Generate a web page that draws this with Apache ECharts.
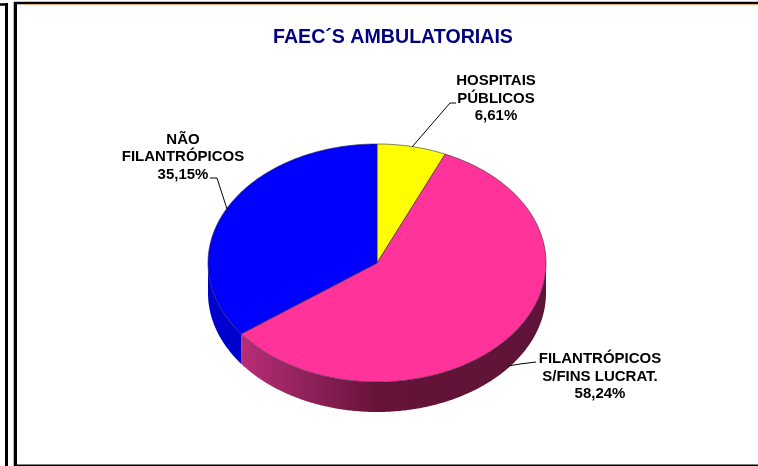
<!DOCTYPE html>
<html><head><meta charset="utf-8">
<style>html,body{margin:0;padding:0;background:#fff}#c{width:758px;height:466px}</style>
<script src="https://cdn.jsdelivr.net/npm/echarts@6/dist/echarts.min.js"></script>
</head><body><div id="c"></div>
<script>
const titleText = 'FAEC´S AMBULATORIAIS';
const categories = ['HOSPITAIS\nPÚBLICOS', 'FILANTRÓPICOS\nS/FINS LUCRAT.', 'NÃO\nFILANTRÓPICOS'];
const values = [6.61, 58.24, 35.15];
const valueLabels = ['6,61%', '58,24%', '35,15%'];
const colors = ['#ffff00', '#ff3399', '#0000ff'];

const CX = 377, CY = 263, RX = 169, RY = 119, DEPTH = 30;
const total = values.reduce((a, b) => a + b, 0);
const pt = (t, dy) => [CX + RX * Math.sin(t), CY - RY * Math.cos(t) + (dy || 0)];
function arc(a, b, dy) {
  const n = Math.max(2, Math.ceil(Math.abs(b - a) / 0.01)), out = [];
  for (let i = 0; i <= n; i++) out.push(pt(a + (b - a) * i / n, dy));
  return out;
}
const spans = []; let acc = 0;
values.forEach(v => { const s = acc / total * 2 * Math.PI; acc += v; spans.push([s, acc / total * 2 * Math.PI]); });

const wallFill = {
  1: new echarts.graphic.LinearGradient(242, 0, 546, 0, [
    {offset: 0, color: '#b82d75'}, {offset: 0.18, color: '#95245f'},
    {offset: 0.45, color: '#661338'}, {offset: 1, color: '#5f1338'}], true),
  2: '#0000cc'
};
const leaders = [
  [[412, 147], [450, 103], [456, 103]],
  [[508, 366], [520, 364], [536, 362]],
  [[227, 209], [217, 178], [210, 178]]
];
const labelPos = [[496, 98.5], [600, 376.5], [183, 157]];

function renderItem(params, api) {
  const i = api.value(0), [a, b] = spans[i], children = [];
  const lo = Math.max(a, Math.PI / 2), hi = Math.min(b, 3 * Math.PI / 2);
  if (hi > lo) {
    children.push({type: 'polygon', shape: {points: arc(lo, hi, 0).concat(arc(hi, lo, DEPTH))},
      style: {fill: wallFill[i], stroke: null}});
  }
  children.push({type: 'polygon', shape: {points: [[CX, CY]].concat(arc(a, b, 0))},
    style: {fill: colors[i], stroke: '#2a2a3a', lineWidth: 0.6, lineJoin: 'round'}});
  children.push({type: 'polyline', shape: {points: leaders[i]},
    style: {fill: null, stroke: '#000', lineWidth: 1}});
  children.push({type: 'text', x: labelPos[i][0], y: labelPos[i][1],
    style: {text: categories[i] + '\n' + valueLabels[i], fill: '#000', align: 'center', verticalAlign: 'middle',
      font: 'bold 15px "Liberation Sans", Arial, sans-serif', lineHeight: 17.5}});
  return {type: 'group', children};
}

const chart = echarts.init(document.getElementById('c'), null, {renderer: 'canvas'});
const line = (x1, y1, x2, y2, c, lw) => ({type: 'line', silent: true, z: 10,
  shape: {x1, y1, x2, y2}, style: {stroke: c, lineWidth: lw}});
chart.setOption({
  animation: false,
  backgroundColor: '#fff',
  title: {text: titleText, left: 388, top: 23, textAlign: 'center',
    textStyle: {color: '#000080', fontSize: 19.6, fontWeight: 'bold', fontFamily: '"Liberation Sans", Arial, sans-serif'}},
  series: [{type: 'custom', coordinateSystem: 'none', renderItem,
    data: values.map((v, i) => [i, v]), silent: true}],
  graphic: {elements: [
    line(0, 4.5, 8, 4.5, '#000', 2.5),
    line(6.5, 3, 6.5, 466, '#000', 3),
    line(13.5, 2, 13.5, 466, '#b8b8b8', 1),
    line(15.5, 2, 15.5, 466, '#000', 3),
    line(14, 3, 758, 3, '#000', 2.5),
    line(24, 4.75, 758, 4.75, '#ffb070', 1),
    line(14, 465.2, 758, 465.2, '#000', 1.6)
  ]}
});
</script></body></html>
